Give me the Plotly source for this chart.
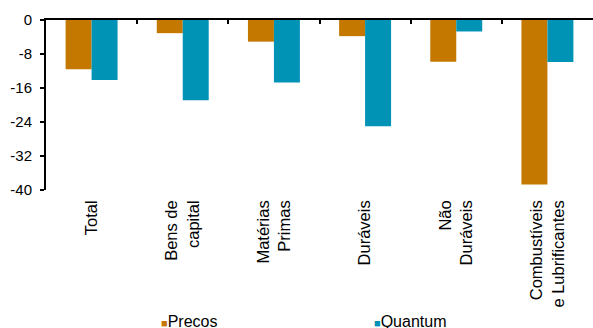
import plotly.graph_objects as go

# Variação (%) por categoria de uso
categorias = [
    "Total",
    "Bens de<br>capital",
    "Matérias<br>Primas",
    "Duráveis",
    "Não<br>Duráveis",
    "Combustíveis<br>e Lubrificantes",
]
precos = [-11.6, -3.1, -5.1, -3.8, -9.8, -38.7]
quantum = [-14.1, -18.9, -14.7, -25.0, -2.7, -9.9]

y_ticks = [0, -8, -16, -24, -32, -40]

series = [("Precos", precos, "#C47800"), ("Quantum", quantum, "#0093B6")]
FONTE = "Liberation Sans, Arial, sans-serif"

fig = go.Figure()
for nome, valores, cor in series:
    fig.add_trace(go.Bar(x=categorias, y=valores, name=nome, showlegend=False,
                         marker=dict(color=cor, line=dict(width=0))))

# eixo auxiliar no topo: linha do zero com marcas entre categorias
fig.add_trace(go.Scatter(x=categorias, y=[None] * len(categorias), xaxis="x2",
                         showlegend=False, hoverinfo="skip"))

# legenda compacta: quadrado pequeno colado ao nome da série
legenda_x = [0.2066, 0.596]
for (nome, _, cor), lx in zip(series, legenda_x):
    fig.add_annotation(
        xref="paper", yref="paper", x=lx, y=-0.775,
        xanchor="left", yanchor="middle", showarrow=False,
        text=f"<span style='color:{cor};font-size:11px'>■</span>{nome}",
        font=dict(size=16, family=FONTE, color="black"),
    )

fig.update_layout(
    width=593, height=328,
    margin=dict(l=46, r=0, t=20, b=138, autoexpand=False),
    paper_bgcolor="white", plot_bgcolor="white",
    font=dict(family=FONTE, size=14, color="black"),
    barmode="group", bargap=0.43, bargroupgap=0,
    xaxis=dict(
        type="category", showline=False, ticks="", showgrid=False,
        tickangle=-90, tickfont=dict(size=16.5), ticklabelstandoff=6,
    ),
    xaxis2=dict(
        type="category", overlaying="x", side="top", matches="x",
        showline=True, linecolor="black", linewidth=2,
        ticks="inside", tickson="boundaries", ticklen=4, tickwidth=2,
        tickcolor="black", showticklabels=False, showgrid=False,
    ),
    yaxis=dict(
        range=[-40, 0], tickvals=y_ticks, ticktext=[str(v) for v in y_ticks],
        showline=True, linecolor="black", linewidth=2,
        ticks="outside", ticklen=4, tickwidth=2, tickcolor="black",
        showgrid=False, zeroline=False, tickfont=dict(size=15),
        ticklabelstandoff=5,
    ),
    showlegend=False,
)

fig.write_html("out.html")
